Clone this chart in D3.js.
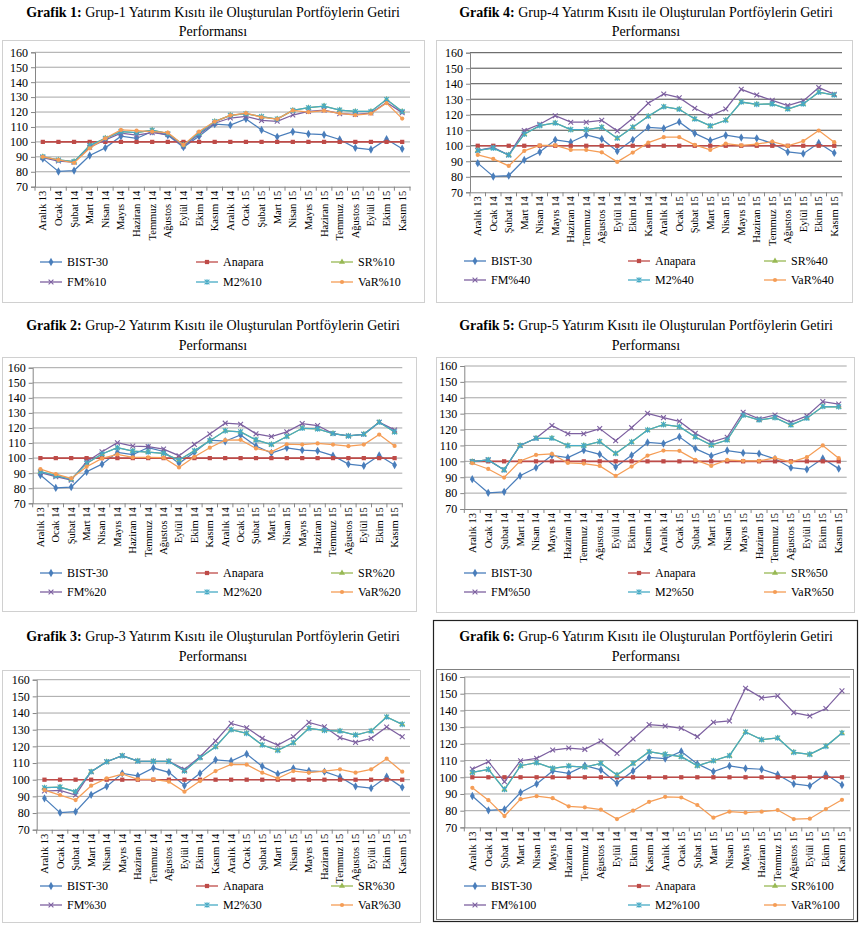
<!DOCTYPE html>
<html><head><meta charset="utf-8">
<script src="https://cdn.jsdelivr.net/npm/d3@7"></script>
<style>body{margin:0;background:#fff} svg{display:block}</style>
</head><body>
<svg id="c" width="861" height="925"></svg>
<script>
const categories = ["Aralık 13","Ocak 14","Şubat 14","Mart 14","Nisan 14","Mayıs 14","Haziran 14","Temmuz 14","Ağustos 14","Eylül 14","Ekim 14","Kasım 14","Aralık 14","Ocak 15","Şubat 15","Mart 15","Nisan 15","Mayıs 15","Haziran 15","Temmuz 15","Ağustos 15","Eylül 15","Ekim 15","Kasım 15"];
const yTicks = [70,80,90,100,110,120,130,140,150,160];
const seriesNames = ["BIST-30","Anapara","SR","FM","M2","VaR"];

const bist30 = [88.8,80.2,80.8,90.9,96.0,103.8,102.3,107.0,104.4,96.5,103.8,111.9,111.2,115.4,108.0,103.4,106.8,105.3,104.8,101.6,96.0,94.9,101.8,95.4];
const anapara = [100,100,100,100,100,100,100,100,100,100,100,100,100,100,100,100,100,100,100,100,100,100,100,100];

// Grup-1 (%10)
const sr10  = [90.0,87.9,86.8,97.5,102.4,106.9,106.2,107.8,105.5,98.0,105.8,113.6,117.8,118.9,116.9,115.3,121.1,122.9,124.0,121.3,120.4,120.4,128.4,120.4];
const fm10  = [89.5,87.2,86.4,96.4,101.3,105.8,104.6,106.2,104.9,97.3,105.1,112.5,116.0,117.1,114.4,113.8,118.0,120.4,121.3,118.9,118.4,119.3,126.4,119.6];
const m210  = [90.0,87.9,86.8,97.5,102.4,106.9,106.2,107.8,105.5,98.0,105.8,113.6,117.8,118.9,116.9,115.3,121.1,122.9,124.0,121.3,120.4,120.4,128.4,120.4];
const var10 = [90.0,87.9,86.0,95.7,102.4,108.0,107.5,106.9,106.2,98.0,106.9,113.6,117.8,119.3,116.5,115.3,121.1,120.0,120.9,119.1,118.0,118.9,126.0,115.6];
// Grup-2 (%20)
const sr20  = [91.0,88.3,86.0,96.5,102.7,106.9,104.7,104.0,103.1,98.7,104.9,111.5,118.1,117.4,112.1,109.0,114.3,119.8,119.4,116.3,114.7,115.8,123.8,117.4];
const fm20  = [90.3,87.7,85.4,97.6,104.2,110.2,108.0,107.6,106.0,101.6,109.1,116.0,123.2,122.5,116.1,114.3,117.4,122.9,121.6,116.3,114.7,115.8,123.8,118.7];
const m220  = [91.0,88.3,86.0,96.5,102.7,106.9,104.7,104.0,103.1,98.7,104.9,111.5,118.1,117.4,112.1,109.0,114.3,119.8,119.4,116.3,114.7,115.8,123.8,117.4];
const var20 = [92.7,89.4,86.5,94.3,99.8,102.5,100.5,100.5,100.3,93.8,100.9,106.9,111.9,112.1,106.4,104.1,109.2,109.0,109.7,109.0,107.9,109.0,115.6,108.1];
// Grup-3 (%30)
const sr30  = [95.2,95.6,92.8,104.8,110.8,114.4,111.2,111.0,111.0,105.2,113.2,119.8,130.0,127.8,120.8,117.6,122.2,130.8,129.6,129.2,126.8,129.2,137.6,133.2];
const fm30  = [93.2,93.6,90.8,104.8,110.8,114.4,111.2,111.0,111.0,106.2,113.8,123.2,133.8,131.2,124.8,120.8,125.8,134.4,131.8,125.2,122.4,124.8,131.6,125.8];
const m230  = [95.2,95.6,92.8,104.8,110.8,114.4,111.2,111.0,111.0,105.2,113.2,119.8,130.0,127.8,120.8,117.6,122.2,130.8,129.6,129.2,126.8,129.2,137.6,133.2];
const var30 = [93.8,90.8,87.8,96.4,100.8,103.4,100.2,100.2,98.8,92.8,99.2,105.2,109.2,109.0,104.2,100.8,105.2,104.2,105.2,106.2,104.2,106.2,112.6,104.8];
// Grup-4 (%40)
const sr40  = [97.0,98.5,94.0,107.5,113.0,114.7,110.4,110.4,111.9,104.8,111.9,119.0,125.2,123.5,117.3,112.8,116.4,128.2,126.7,127.0,123.7,127.0,134.5,132.7];
const fm40  = [97.0,99.0,94.0,109.8,113.9,119.4,115.2,115.2,116.4,109.6,117.7,127.4,133.4,131.0,124.2,119.2,123.7,136.4,132.7,129.3,125.9,128.9,137.5,133.2];
const m240  = [97.0,98.5,94.0,107.5,113.0,114.7,110.4,110.4,111.9,104.8,111.9,119.0,125.2,123.5,117.3,112.8,116.4,128.2,126.7,127.0,123.7,127.0,134.5,132.7];
const var40 = [94.1,91.5,87.0,96.7,100.3,100.3,97.3,97.3,95.8,89.6,95.6,102.0,105.5,105.5,100.6,97.3,101.4,100.3,101.0,102.7,99.9,103.0,109.8,102.3];
// Grup-5 (%50)
const sr50  = [99.8,100.9,94.6,110.0,114.5,114.5,109.9,109.9,112.4,104.9,112.2,119.7,123.1,121.8,115.3,110.2,113.4,129.0,126.0,127.5,122.9,127.1,134.5,134.3];
const fm50  = [99.8,100.9,94.6,110.0,114.5,122.5,117.4,117.4,120.6,113.0,121.2,130.2,127.5,125.2,117.6,112.1,115.1,130.9,126.7,129.2,124.6,128.6,137.6,136.0];
const m250  = [99.8,100.9,94.6,110.0,114.5,114.5,109.9,109.9,112.4,104.9,112.2,119.7,123.1,121.8,115.3,110.2,113.4,129.0,126.0,127.5,122.9,127.1,134.5,134.3];
const var50 = [98.8,95.2,89.8,100.2,104.0,104.7,99.0,98.6,97.1,90.8,96.7,103.6,106.8,106.6,100.9,97.1,100.9,100.3,100.3,102.2,99.5,102.6,110.0,102.0];
// Grup-6 (%100)
const sr100  = [102.9,104.7,92.7,106.9,108.7,105.3,106.7,106.1,108.3,101.3,108.3,115.3,113.7,112.3,106.9,109.9,112.9,127.1,122.5,123.5,114.9,113.7,118.5,126.5];
const fm100  = [104.9,109.3,97.3,109.9,111.3,116.3,117.5,116.7,121.7,114.3,122.9,131.5,130.7,129.3,124.3,132.9,133.7,153.3,147.5,148.7,138.7,136.7,141.1,151.7];
const m2100  = [102.9,104.7,92.7,106.9,108.7,105.3,106.7,106.1,108.3,101.3,108.3,115.3,113.7,112.3,106.9,109.9,112.9,127.1,122.5,123.5,114.9,113.7,118.5,126.5];
const var100 = [93.7,86.3,76.8,86.9,88.7,87.5,82.6,82.0,80.6,75.0,80.0,85.3,88.3,87.9,83.4,75.8,79.4,78.8,79.4,80.4,75.0,75.2,81.0,86.5];

const groups = [
  {n:1, pct:"%10", data:[bist30, anapara, sr10, fm10, m210, var10]},
  {n:2, pct:"%20", data:[bist30, anapara, sr20, fm20, m220, var20]},
  {n:3, pct:"%30", data:[bist30, anapara, sr30, fm30, m230, var30]},
  {n:4, pct:"%40", data:[bist30, anapara, sr40, fm40, m240, var40]},
  {n:5, pct:"%50", data:[bist30, anapara, sr50, fm50, m250, var50]},
  {n:6, pct:"%100", data:[bist30, anapara, sr100, fm100, m2100, var100]}
];

const colors = ["#4a7ebb","#be4b48","#98b954","#7d60a0","#46aac5","#f59d56"];
const shapes = ["diamond","square","triangle","x","star","circle"];

const layout = {
  1:{cx:213, t1:17, t2:36, frame:[2,40,422,262], pl:35, pr:410, y160:52.3, y70:186.7, leg:[262,282], lx:[40,196,331], grid:"#a6a6a6", border:"#d0d0d0"},
  4:{cx:646, t1:17, t2:36, frame:[436,40,416,262], pl:470, pr:842, y160:52.7, y70:192.3, leg:[261,280], lx:[464,628,764], grid:"#4d4d4d", border:"#d0d0d0"},
  2:{cx:213, t1:330, t2:350, frame:[2,357,414,254], pl:32.7, pr:402.3, y160:367.7, y70:503.3, leg:[573,592], lx:[40,196,331], grid:"#a6a6a6", border:"#d0d0d0"},
  5:{cx:646, t1:330, t2:350, frame:[436,357,418,255], pl:464.3, pr:846.7, y160:366, y70:509, leg:[573,592], lx:[464,628,764], grid:"#a6a6a6", border:"#d0d0d0"},
  3:{cx:213, t1:641, t2:661, frame:[2,670,418,252], pl:36.7, pr:410, y160:679.7, y70:829.7, leg:[886,905], lx:[40,196,331], grid:"#a6a6a6", border:"#d0d0d0"},
  6:{cx:646, t1:641, t2:661, frame:[436,669,417,250], pl:464.3, pr:850, y160:677, y70:827.4, leg:[886,905], lx:[464,628,764], grid:"#a6a6a6", border:"#808080", outer:[433.5,620.5,424,301]}
};

const svg = d3.select("#c");
const serif = "'Liberation Serif','Times New Roman',serif";

function marker(g, shape, x, y, col) {
  let s;
  if (shape === "diamond") s = g.append("path").attr("d", d3.symbol(d3.symbolDiamond, 20)()).attr("fill", col);
  else if (shape === "square") s = g.append("path").attr("d", d3.symbol(d3.symbolSquare, 18)()).attr("fill", col);
  else if (shape === "triangle") s = g.append("path").attr("d", d3.symbol(d3.symbolTriangle, 16)()).attr("fill", col);
  else if (shape === "circle") s = g.append("path").attr("d", d3.symbol(d3.symbolCircle, 14)()).attr("fill", col);
  else if (shape === "x") s = g.append("path").attr("d", "M-2.4,-2.4L2.4,2.4M-2.4,2.4L2.4,-2.4").attr("stroke", col).attr("stroke-width", 1.1).attr("fill", "none");
  else s = g.append("path").attr("d", "M-2.4,-2.4L2.4,2.4M-2.4,2.4L2.4,-2.4M0,-2.8L0,2.8").attr("stroke", col).attr("stroke-width", 1.1).attr("fill", "none");
  s.attr("transform", `translate(${x},${y})`);
}

groups.forEach(gr => {
  const L = layout[gr.n];
  const g = svg.append("g");
  if (L.outer) g.append("rect").attr("x", L.outer[0]).attr("y", L.outer[1]).attr("width", L.outer[2]).attr("height", L.outer[3]).attr("fill", "none").attr("stroke", "#222").attr("stroke-width", 1.2);
  g.append("rect").attr("x", L.frame[0] + 0.5).attr("y", L.frame[1] + 0.5).attr("width", L.frame[2]).attr("height", L.frame[3]).attr("fill", "none").attr("stroke", L.border);

  const t = g.append("text").attr("x", L.cx).attr("y", L.t1).attr("text-anchor", "middle").attr("font-family", serif).attr("font-size", 14).attr("fill", "#000");
  t.append("tspan").attr("font-weight", "bold").text(`Grafik ${gr.n}: `);
  t.append("tspan").text(`Grup-${gr.n} Yatırım Kısıtı ile Oluşturulan Portföylerin Getiri`);
  g.append("text").attr("x", L.cx).attr("y", L.t2).attr("text-anchor", "middle").attr("font-family", serif).attr("font-size", 14).text("Performansı");

  const x = d3.scaleBand().domain(categories).range([L.pl, L.pr]);
  const y = d3.scaleLinear().domain([70, 160]).range([L.y70, L.y160]);

  g.append("g").selectAll("line").data(yTicks.slice(1)).join("line")
    .attr("x1", L.pl).attr("x2", L.pr).attr("y1", d => y(d)).attr("y2", d => y(d))
    .attr("stroke", L.grid).attr("stroke-width", 1);

  const ya = g.append("g").attr("transform", `translate(${L.pl},0)`)
    .call(d3.axisLeft(y).tickValues(yTicks).tickSize(4).tickPadding(3));
  ya.select(".domain").attr("stroke", "#868686");
  ya.selectAll(".tick line").attr("stroke", "#868686");
  ya.selectAll("text").attr("font-family", serif).attr("font-size", 12).attr("fill", "#000");

  const xa = g.append("g").attr("transform", `translate(0,${L.y70})`)
    .call(d3.axisBottom(x).tickSize(0).tickPadding(6));
  xa.select(".domain").attr("stroke", "#868686");
  xa.selectAll(".tick text").attr("font-family", serif).attr("font-size", 10.5).attr("fill", "#000")
    .attr("text-anchor", "end").attr("transform", "rotate(-90)").attr("dx", "-4px").attr("dy", "0.33em").attr("y", 0).attr("x", 0);
  g.append("g").selectAll("line").data(categories).join("line")
    .attr("x1", d => x(d)).attr("x2", d => x(d)).attr("y1", L.y70).attr("y2", L.y70 + 4).attr("stroke", "#868686");
  g.append("line").attr("x1", L.pr).attr("x2", L.pr).attr("y1", L.y70).attr("y2", L.y70 + 4).attr("stroke", "#868686");

  const line = d3.line().x((d, i) => x(categories[i]) + x.bandwidth() / 2).y(d => y(d));
  gr.data.forEach((vals, si) => {
    const sg = g.append("g");
    sg.append("path").datum(vals).attr("d", line).attr("fill", "none").attr("stroke", colors[si]).attr("stroke-width", si === 1 ? 1.6 : 1.25);
    vals.forEach((v, i) => marker(sg, shapes[si], x(categories[i]) + x.bandwidth() / 2, y(v), colors[si]));
  });

  const labels = seriesNames.map((s, i) => i < 2 ? s : s + gr.pct);
  labels.forEach((lab, i) => {
    const row = Math.floor(i / 3), col = i % 3;
    const lx = L.lx[col], ly = L.leg[row];
    const lg = g.append("g");
    lg.append("line").attr("x1", lx).attr("x2", lx + 22).attr("y1", ly).attr("y2", ly).attr("stroke", colors[i]).attr("stroke-width", 1.3);
    marker(lg, shapes[i], lx + 11, ly, colors[i]);
    lg.append("text").attr("x", lx + 27).attr("y", ly + 4).attr("font-family", serif).attr("font-size", 12).text(lab);
  });
});
</script>
</body></html>
